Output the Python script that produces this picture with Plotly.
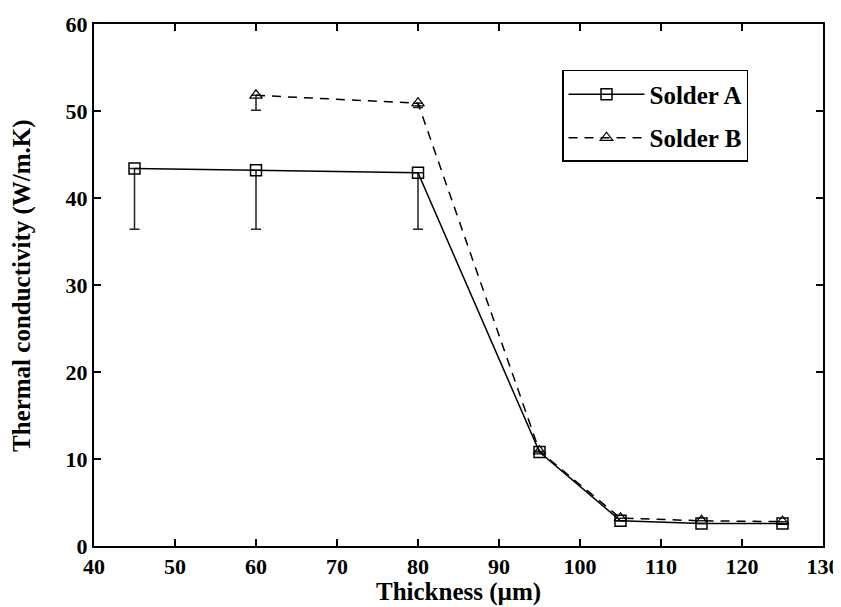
import plotly.graph_objects as go

thickness_a = [45, 60, 80, 95, 105, 115, 125]
conductivity_a = [43.4, 43.2, 42.9, 10.8, 2.9, 2.6, 2.6]
err_minus_a = [7.0, 6.8, 6.5, 0, 0, 0, 0]

thickness_b = [60, 80, 95, 105, 115, 125]
conductivity_b = [51.8, 50.9, 10.9, 3.2, 2.9, 2.8]
err_minus_b = [1.7, 0.5, 0, 0, 0, 0]

x_ticks = [40, 50, 60, 70, 80, 90, 100, 110, 120, 130]
y_ticks = [0, 10, 20, 30, 40, 50, 60]

FONT = "Liberation Serif"

fig = go.Figure()
fig.add_trace(go.Scatter(
    x=thickness_a, y=conductivity_a, name="<b>Solder A</b>", legendgroup="a",
    mode="lines+markers",
    line=dict(color="black", width=1.5, dash="solid"),
    marker=dict(symbol="square-open", size=11, color="black", line=dict(width=1.5)),
    error_y=dict(type="data", symmetric=False, array=[0]*len(err_minus_a),
                 arrayminus=err_minus_a, color="#222222", thickness=1.5, width=5),
))
fig.add_trace(go.Scatter(
    x=thickness_b, y=conductivity_b, name="<b>Solder B</b>", legendgroup="b",
    mode="lines+markers",
    line=dict(color="black", width=1.5, dash="9px,7px"),
    marker=dict(symbol="triangle-up-open", size=11, color="black", line=dict(width=1.2)),
    error_y=dict(type="data", symmetric=False, array=[0]*len(err_minus_b),
                 arrayminus=err_minus_b, color="#222222", thickness=1.5, width=5),
))

axis_common = dict(
    showline=True, linecolor="black", linewidth=2, mirror="ticks",
    ticks="inside", ticklen=7, tickwidth=1.5, tickcolor="black",
    showgrid=False, zeroline=False, automargin=False,
    tickfont=dict(family=FONT, size=22, color="black", weight="bold"),
)

fig.update_layout(
    width=833, height=599,
    margin=dict(l=86, r=18, t=16, b=61, autoexpand=False),
    paper_bgcolor="white", plot_bgcolor="white",
    font=dict(family=FONT, color="black"),
    xaxis=dict(range=[40, 130], tickvals=x_ticks, **axis_common),
    yaxis=dict(range=[0, 60], tickvals=y_ticks, **axis_common),
    legend=dict(x=0.642, y=0.912, xanchor="left", yanchor="top",
                bgcolor="white", bordercolor="black", borderwidth=1.5,
                font=dict(family=FONT, size=25, color="black"),
                itemwidth=76, tracegroupgap=8, traceorder="grouped"),
    showlegend=True,
    annotations=[
        dict(text="<b>Thickness (µm)</b>", xref="paper", yref="paper",
             x=0.5, y=-0.088, xanchor="center", yanchor="middle", showarrow=False,
             font=dict(family=FONT, size=25, color="black")),
        dict(text="<b>Thermal conductivity (W/m.K)</b>", xref="paper", yref="paper",
             x=-0.0988, y=0.5, xanchor="center", yanchor="middle", textangle=-90,
             showarrow=False, font=dict(family=FONT, size=25, color="black")),
    ],
)

fig.write_html("out.html")
